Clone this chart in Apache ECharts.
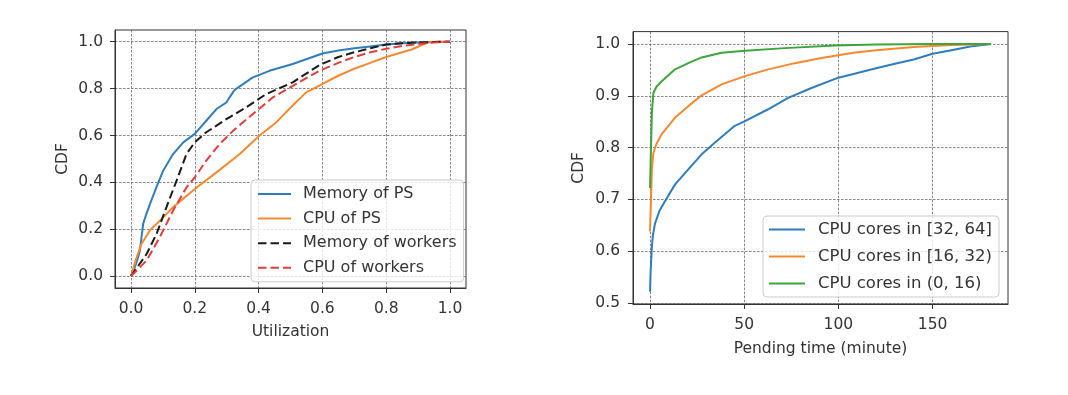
<!DOCTYPE html>
<html>
<head>
<meta charset="utf-8">
<script src="https://cdn.jsdelivr.net/npm/echarts@6/dist/echarts.min.js"></script>
<style>
html,body{margin:0;padding:0;background:#fff;}
#c{width:1068px;height:395px;}
</style>
</head>
<body>
<div id="c"></div>
<script>
// ---------- Left panel: utilization CDF ----------
const utilTicks = [0, 0.2, 0.4, 0.6, 0.8, 1.0];
const cdfTicksLeft = [0, 0.2, 0.4, 0.6, 0.8, 1.0];

const memPsX = [0, 0.01, 0.02, 0.028, 0.033, 0.0385, 0.049, 0.06, 0.08, 0.101, 0.132, 0.164, 0.2, 0.236, 0.268, 0.299, 0.309, 0.325, 0.382, 0.434, 0.507, 0.58, 0.6, 0.65, 0.7, 0.75, 0.8, 0.85, 0.9, 0.95, 1.0];
const memPsY = [0, 0.03, 0.07, 0.109, 0.166, 0.225, 0.268, 0.31, 0.38, 0.45, 0.521, 0.571, 0.607, 0.663, 0.713, 0.741, 0.763, 0.795, 0.848, 0.876, 0.905, 0.94, 0.95, 0.963, 0.972, 0.98, 0.988, 0.993, 0.997, 0.999, 1.0];

const cpuPsX = [0, 0.018, 0.033, 0.059, 0.101, 0.132, 0.2, 0.268, 0.341, 0.403, 0.455, 0.507, 0.549, 0.59, 0.6, 0.65, 0.7, 0.75, 0.8, 0.85, 0.88, 0.91, 0.93, 0.96, 1.0];
const cpuPsY = [0, 0.081, 0.138, 0.195, 0.251, 0.294, 0.372, 0.443, 0.521, 0.6, 0.656, 0.728, 0.784, 0.8125, 0.82, 0.855, 0.885, 0.91, 0.935, 0.955, 0.967, 0.985, 0.997, 1.0, 1.0];

const memWkX = [0, 0.049, 0.08, 0.111, 0.143, 0.174, 0.2, 0.236, 0.299, 0.361, 0.424, 0.507, 0.59, 0.65, 0.7, 0.75, 0.8, 0.85, 0.9, 0.95, 1.0];
const memWkY = [0, 0.095, 0.18, 0.294, 0.408, 0.521, 0.571, 0.614, 0.67, 0.72, 0.777, 0.827, 0.9, 0.935, 0.955, 0.972, 0.988, 0.994, 0.997, 0.999, 1.0];

const cpuWkX = [0, 0.049, 0.09, 0.132, 0.174, 0.2, 0.236, 0.278, 0.32, 0.382, 0.445, 0.518, 0.59, 0.65, 0.7, 0.75, 0.8, 0.85, 0.9, 0.95, 1.0];
const cpuWkY = [0, 0.067, 0.166, 0.28, 0.379, 0.422, 0.493, 0.564, 0.62, 0.692, 0.763, 0.82, 0.876, 0.91, 0.935, 0.955, 0.97, 0.982, 0.99, 0.997, 1.0];

// ---------- Right panel: pending time CDF ----------
const pendTicks = [0, 50, 100, 150];
const cdfTicksRight = [0.5, 0.6, 0.7, 0.8, 0.9, 1.0];

const big32X = [0, 0.3, 0.7, 1, 1.5, 2.6, 5, 8, 13.3, 20.3, 27.4, 34.5, 45, 50.4, 62.7, 73.3, 85.7, 100, 108, 120, 130, 140, 150, 160, 170, 181];
const big32Y = [0.522, 0.56, 0.59, 0.61, 0.63, 0.653, 0.678, 0.697, 0.729, 0.758, 0.787, 0.81, 0.842, 0.851, 0.874, 0.896, 0.915, 0.935, 0.942, 0.953, 0.962, 0.97, 0.981, 0.988, 0.995, 1.0];

const mid16X = [0, 0.5, 1, 1.8, 3.5, 6.2, 13.3, 20.3, 27.4, 38, 50.4, 62.7, 76.9, 91, 108, 120, 140, 160, 181];
const mid16Y = [0.638, 0.7, 0.76, 0.79, 0.808, 0.826, 0.858, 0.88, 0.901, 0.922, 0.938, 0.951, 0.963, 0.973, 0.983, 0.988, 0.994, 0.998, 1.0];

const small0X = [0, 0.5, 1, 1.8, 3.5, 6.2, 13.3, 20.3, 27.4, 38, 50.4, 71.6, 98, 120, 150, 181];
const small0Y = [0.722, 0.8, 0.87, 0.906, 0.918, 0.928, 0.951, 0.963, 0.974, 0.983, 0.987, 0.992, 0.997, 0.999, 1.0, 1.0];

const leftNames = ['Memory of PS', 'CPU of PS', 'Memory of workers', 'CPU of workers'];
const rightNames = ['CPU cores in [32, 64]', 'CPU cores in [16, 32)', 'CPU cores in (0, 16)'];

function zip(xs, ys) { return xs.map((x, i) => [x, ys[i]]); }

const FONT = 'DejaVu Sans';
const TXT = '#333';
const gridLine = { show: true, lineStyle: { color: '#666', width: 0.8, type: [2.5, 1.5] } };
const axLine = { show: true, onZero: false, lineStyle: { color: '#333', width: 1 } };
const tick = (vals) => ({ show: true, inside: false, length: 5, lineStyle: { color: '#333', width: 1 }, customValues: vals });
const lbl = (vals, fmt, margin) => ({ customValues: vals, formatter: fmt, fontFamily: FONT, fontSize: 15.5, color: TXT, margin: margin });

function line(name, xi, xs, ys, color, dashed) {
  return {
    name: name, type: 'line', xAxisIndex: xi, yAxisIndex: xi, data: zip(xs, ys),
    symbol: 'circle', symbolSize: 0, showSymbol: false, smooth: false,
    lineStyle: { color: color, width: 2, type: dashed ? [8.5, 4] : 'solid', join: 'round' },
    itemStyle: { color: color, opacity: 0 }, z: 5
  };
}

const chart = echarts.init(document.getElementById('c'), null, { renderer: 'canvas' });

const legendCommon = {
  orient: 'vertical', borderColor: '#cccccc', borderWidth: 1, borderRadius: 4,
  backgroundColor: 'rgba(255,255,255,0.8)', itemHeight: 14,
  itemStyle: { opacity: 0, borderWidth: 0 }
};

const option = {
  backgroundColor: '#fff',
  animation: false,
  textStyle: { fontFamily: FONT },
  grid: [
    { left: 115, top: 30, width: 351, height: 258, show: true, borderColor: '#333', borderWidth: 1, containLabel: false },
    { left: 633, top: 31.6, width: 375, height: 272.4, show: true, borderColor: '#333', borderWidth: 1, containLabel: false }
  ],
  xAxis: [
    { type: 'value', gridIndex: 0, min: -0.05, max: 1.05,
      name: 'Utilization', nameLocation: 'middle', nameGap: 36,
      nameTextStyle: { fontFamily: FONT, fontSize: 15.5, color: TXT },
      axisLine: axLine, axisTick: tick(utilTicks), splitLine: gridLine,
      axisLabel: lbl(utilTicks, v => v.toFixed(1), 13) },
    { type: 'value', gridIndex: 1, min: -9.05, max: 190.05,
      name: 'Pending time (minute)', nameLocation: 'middle', nameGap: 37,
      nameTextStyle: { fontFamily: FONT, fontSize: 15.5, color: TXT },
      axisLine: axLine, axisTick: tick(pendTicks), splitLine: gridLine,
      axisLabel: lbl(pendTicks, v => String(Math.round(v)), 13) }
  ],
  yAxis: [
    { type: 'value', gridIndex: 0, min: -0.05, max: 1.05,
      name: 'CDF', nameLocation: 'middle', nameGap: 44, nameRotate: 90,
      nameTextStyle: { fontFamily: FONT, fontSize: 15.5, color: TXT },
      axisLine: axLine, axisTick: tick(cdfTicksLeft), splitLine: gridLine,
      axisLabel: lbl(cdfTicksLeft, v => v.toFixed(1), 12) },
    { type: 'value', gridIndex: 1, min: 0.4981, max: 1.0239,
      name: 'CDF', nameLocation: 'middle', nameGap: 46, nameRotate: 90,
      nameTextStyle: { fontFamily: FONT, fontSize: 15.5, color: TXT },
      axisLine: axLine, axisTick: tick(cdfTicksRight), splitLine: gridLine,
      axisLabel: lbl(cdfTicksRight, v => v.toFixed(1), 13) }
  ],
  legend: [
    Object.assign({}, legendCommon, { data: leftNames, left: 251, top: 180,
      itemWidth: 33, itemGap: 8.6, padding: [6, 7, 6, 6],
      textStyle: { fontFamily: FONT, fontSize: 16, color: TXT, padding: [0, 0, 0, 7] } }),
    Object.assign({}, legendCommon, { data: rightNames, left: 763, top: 216,
      itemWidth: 36, itemGap: 10, padding: [5, 7, 5, 5],
      textStyle: { fontFamily: FONT, fontSize: 16.5, color: TXT, padding: [0, 0, 0, 8] } })
  ],
  series: [
    line(leftNames[0], 0, memPsX, memPsY, '#2f7dbd', false),
    line(leftNames[1], 0, cpuPsX, cpuPsY, '#f5892f', false),
    line(leftNames[2], 0, memWkX, memWkY, '#1a1a1a', true),
    line(leftNames[3], 0, cpuWkX, cpuWkY, '#e23d3b', true),
    line(rightNames[0], 1, big32X, big32Y, '#2f7dbd', false),
    line(rightNames[1], 1, mid16X, mid16Y, '#f5892f', false),
    line(rightNames[2], 1, small0X, small0Y, '#3ca53c', false)
  ]
};
chart.setOption(option);
</script>
</body>
</html>
